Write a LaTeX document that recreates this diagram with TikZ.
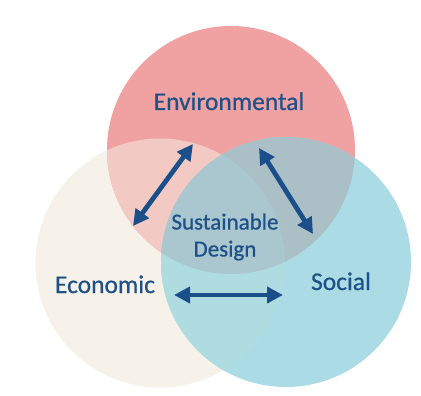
\documentclass[tikz,border=0pt]{standalone}
\usepackage{fontspec}
\setmainfont[FakeBold=0.7,AutoFakeBold=0]{Carlito}
\newfontfamily\labelfont[FakeBold=0.7]{Carlito}
\usetikzlibrary{arrows.meta}

% circle fills and their overlaps
\definecolor{envfill}{HTML}{EFA2A1}
\definecolor{ecofill}{HTML}{F6F2E9}
\definecolor{socfill}{HTML}{ABDCE6}
\definecolor{enveco}{HTML}{F2CAC3}
\definecolor{envsoc}{HTML}{ABBFC7}
\definecolor{ecosoc}{HTML}{AEDCE1}
\definecolor{allthree}{HTML}{AAC6CE}
% text and arrows
\definecolor{inkblue}{HTML}{1F5188}
\definecolor{arrowblue}{HTML}{1B4F8A}

\begin{document}
\begin{tikzpicture}[x=1pt,y=-1pt,
  pillar/.style={text=inkblue, font=\labelfont\fontsize{25.5}{30}\selectfont, inner sep=0pt},
  core/.style={text=inkblue, font=\labelfont\fontsize{23}{27}\selectfont, inner sep=0pt, align=center},
  link/.style={draw=arrowblue, line width=4.8pt,
    {Triangle[length=16pt,width=16pt]}-{Triangle[length=16pt,width=16pt]}}]
\useasboundingbox (0,0) rectangle (421,396);

% circle centres
\coordinate (env) at (231,150);
\coordinate (eco) at (160,263);
\coordinate (soc) at (286,262);
\def\renv{124pt}
\def\reco{124.5pt}
\def\rsoc{125pt}

% base circles
\fill[ecofill] (eco) circle[radius=\reco];
\fill[envfill] (env) circle[radius=\renv];
\fill[socfill] (soc) circle[radius=\rsoc];

% pairwise overlaps
\begin{scope}
  \clip (env) circle[radius=\renv];
  \fill[enveco] (eco) circle[radius=\reco];
\end{scope}
\begin{scope}
  \clip (env) circle[radius=\renv];
  \fill[envsoc] (soc) circle[radius=\rsoc];
\end{scope}
\begin{scope}
  \clip (eco) circle[radius=\reco];
  \fill[ecosoc] (soc) circle[radius=\rsoc];
\end{scope}
% common region
\begin{scope}
  \clip (env) circle[radius=\renv];
  \clip (eco) circle[radius=\reco];
  \fill[allthree] (soc) circle[radius=\rsoc];
\end{scope}

% labels
\node[pillar, anchor=base] (tenv) at (229,110) {Environmental};
\node[pillar, anchor=base] (teco) at (105,293) {Economic};
\node[pillar, anchor=base] (tsoc) at (341,290) {Social};
\node[core] (tsd) at (225,237) {Sustainable\\Design};

% arrow ends
\coordinate (a1) at (133,226);
\coordinate (a2) at (193,144);
\coordinate (b1) at (259,148);
\coordinate (b2) at (313,234);
\coordinate (c1) at (174,295);
\coordinate (c2) at (283,295);

\draw[link] (a1) -- (a2);
\draw[link] (b1) -- (b2);
\draw[link] (c1) -- (c2);
\end{tikzpicture}
\end{document}
